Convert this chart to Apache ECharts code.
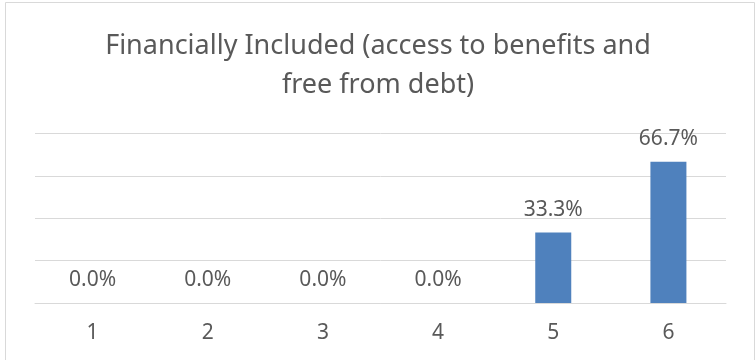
<!DOCTYPE html>
<html>
<head>
<meta charset="utf-8">
<script src="https://cdn.jsdelivr.net/npm/echarts@6/dist/echarts.min.js"></script>
<style>
  html, body { margin: 0; padding: 0; background: #ffffff; }
  #chart { width: 756px; height: 360px; }
</style>
</head>
<body>
<div id="chart"></div>
<script>
// Chart data
const titleText = 'Financially Included (access to benefits and\nfree from debt)';
const categories = ['1', '2', '3', '4', '5', '6'];
const shares = [0.0, 0.0, 0.0, 0.0, 33.3, 66.7];
const yTicks = [0, 20, 40, 60, 80];

const textColor = '#595959';
const gridColor = '#D9D9D9';
const fontFamily = '"Noto Sans", "Open Sans", sans-serif';

const chart = echarts.init(document.getElementById('chart'), null, { renderer: 'canvas' });

chart.setOption({
  backgroundColor: '#ffffff',
  animation: false,
  graphic: [{
    type: 'rect',
    shape: { x: 5.5, y: 2.5, width: 749, height: 370 },
    style: { fill: 'none', stroke: gridColor, lineWidth: 1 },
    silent: true,
    z: 0
  }],
  title: {
    text: titleText,
    left: 'center',
    top: 22,
    textStyle: {
      fontFamily: fontFamily,
      fontSize: 27,
      fontWeight: 'normal',
      color: textColor,
      lineHeight: 39
    }
  },
  grid: {
    left: 35,
    right: 30,
    top: 133.5,
    bottom: 57,
    containLabel: false
  },
  xAxis: {
    type: 'category',
    data: categories,
    axisLine: { show: true, lineStyle: { color: gridColor, width: 1 } },
    axisTick: { show: false },
    axisLabel: {
      color: textColor,
      fontFamily: fontFamily,
      fontSize: 21,
      margin: 20
    }
  },
  yAxis: {
    type: 'value',
    min: yTicks[0],
    max: yTicks[yTicks.length - 1],
    interval: yTicks[1] - yTicks[0],
    axisLine: { show: false },
    axisTick: { show: false },
    axisLabel: { show: false },
    splitLine: { show: true, lineStyle: { color: gridColor, width: 1 } }
  },
  series: [{
    type: 'bar',
    data: shares,
    barWidth: 36,
    itemStyle: { color: '#4F81BD' },
    label: {
      show: true,
      position: 'top',
      distance: 12,
      color: textColor,
      fontFamily: fontFamily,
      fontSize: 21,
      formatter: p => p.value.toFixed(1) + '%'
    }
  }]
});
</script>
</body>
</html>
